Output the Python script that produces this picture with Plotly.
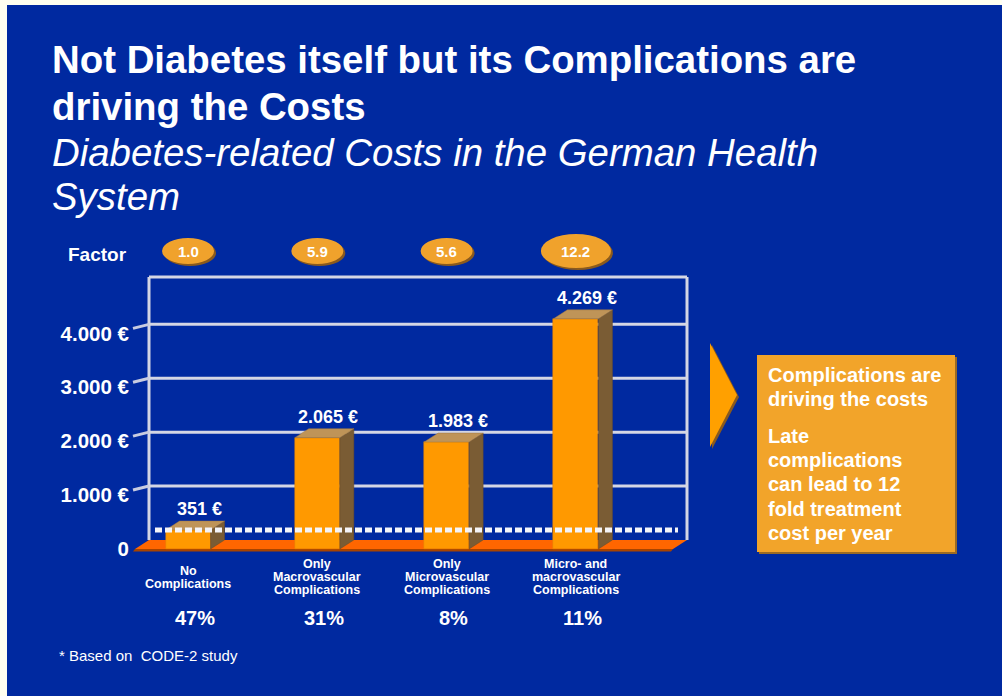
import plotly.graph_objects as go

# ---------------- data ----------------
categories = [
    ["No", "Complications"],
    ["Only", "Macrovascular", "Complications"],
    ["Only", "Microvascular", "Complications"],
    ["Micro- and", "macrovascular", "Complications"],
]
costs = [351, 2065, 1983, 4269]
cost_labels = ["351 €", "2.065 €", "1.983 €", "4.269 €"]
factors = ["1.0", "5.9", "5.6", "12.2"]
shares = ["47%", "31%", "8%", "11%"]
y_ticks = [0, 1000, 2000, 3000, 4000]
y_tick_labels = ["0", "1.000 €", "2.000 €", "3.000 €", "4.000 €"]

title_lines = ["Not Diabetes itself but its Complications are", "driving the Costs"]
subtitle_lines = ["Diabetes-related Costs in the German Health", "System"]
box_lines = ["Complications are", "driving the costs", "Late", "complications",
             "can lead to 12", "fold treatment", "cost per year"]
footnote = "* Based on\u00a0\u00a0CODE-2 study"

# ---------------- layout geometry ----------------
W, H = 1002, 696
L, R, T, B = 149, 687, 277, 552
X_RANGE = [-0.302, 3.859]
Y_RANGE = [-56, 5045]
FONT = "Liberation Sans, Arial, sans-serif"
BLUE = "#0029A0"
WHITE = "#FFFFFF"

ux = (X_RANGE[1] - X_RANGE[0]) / (R - L)   # data units per px (x)
uy = (Y_RANGE[1] - Y_RANGE[0]) / (B - T)   # data units per px (y)
DX = 14 * ux
DY = 9 * uy
BAR_W = 45 * ux


def px_x(x):
    return (x - L) / (R - L)


def px_y(y):
    return (B - y) / (B - T)


def poly(points):
    return "M " + " L ".join(f"{px_x(a):.5f},{px_y(b):.5f}" for a, b in points) + " Z"


idx = list(range(len(costs)))

fig = go.Figure()

# side faces
sx, sy = [], []
for i, v in zip(idx, costs):
    x1 = i + BAR_W / 2
    sx += [x1, x1 + DX, x1 + DX, x1, x1, None]
    sy += [0, DY, v + DY, v, 0, None]
fig.add_trace(go.Scatter(x=sx, y=sy, fill="toself", fillcolor="#7A5C34",
                         line=dict(width=0.5, color="#6A4C28"), mode="lines",
                         hoverinfo="skip", showlegend=False))
# top faces
tx, ty = [], []
for i, v in zip(idx, costs):
    x0 = i - BAR_W / 2
    x1 = i + BAR_W / 2
    tx += [x0, x0 + DX, x1 + DX, x1, x0, None]
    ty += [v, v + DY, v + DY, v, v, None]
fig.add_trace(go.Scatter(x=tx, y=ty, fill="toself", fillcolor="#BF9458",
                         line=dict(width=0.5, color="#A07840"), mode="lines",
                         hoverinfo="skip", showlegend=False))
# front faces
fig.add_trace(go.Bar(x=idx, y=costs, width=BAR_W,
                     marker=dict(color="#FF9900", line=dict(width=0.5, color="#E08000")),
                     hoverinfo="skip", showlegend=False))
# dashed baseline at the "no complications" level
fig.add_trace(go.Scatter(x=[X_RANGE[0] + 6 * ux, X_RANGE[1] - 9 * ux], y=[costs[0], costs[0]],
                         mode="lines", line=dict(color="#F4F4F8", width=5, dash="7px,3px"),
                         hoverinfo="skip", showlegend=False))

shapes = []
# background
shapes.append(dict(type="rect", xref="paper", yref="paper", layer="below",
                   x0=px_x(7), x1=px_x(W + 5), y0=px_y(H + 5), y1=px_y(5),
                   fillcolor=BLUE, line=dict(width=0)))
# floor
shapes.append(dict(type="path", xref="paper", yref="paper", layer="below",
                   path=poly([(L, 540), (R, 540), (R - 14, 549), (L - 14, 549)]),
                   fillcolor="#FF6600", line=dict(width=0)))
shapes.append(dict(type="path", xref="paper", yref="paper", layer="below",
                   path=poly([(L - 14, 549), (R - 14, 549), (R - 16, 551.5), (L - 16, 551.5)]),
                   fillcolor="#A84400", line=dict(width=0)))
# back wall frame
for x0, y0, x1, y1 in [(L, 540, L, T), (L, T, R, T), (R, T, R, 540)]:
    shapes.append(dict(type="line", xref="paper", yref="paper", layer="below",
                       x0=px_x(x0), y0=px_y(y0), x1=px_x(x1), y1=px_y(y1),
                       line=dict(color="#D4D6E4", width=3)))
# grid lines on back wall + connectors to labels
for t in y_ticks[1:]:
    shapes.append(dict(type="line", xref="paper", yref="y", layer="below",
                       x0=0, x1=1, y0=t + DY, y1=t + DY,
                       line=dict(color="#D4D6E4", width=3)))
    shapes.append(dict(type="line", xref="paper", yref="y", layer="below",
                       x0=px_x(133), x1=px_x(L), y0=t + 5 * uy, y1=t + DY,
                       line=dict(color="#C8CCE0", width=3)))
# factor ellipses
for i, f in zip(idx, factors):
    hw = (26 if len(f) <= 3 else 35) * ux
    hh = 13 if len(f) <= 3 else 17
    shapes.append(dict(type="circle", xref="x", yref="paper", layer="above",
                       x0=i - hw + 2 * ux, x1=i + hw + 2 * ux,
                       y0=px_y(251 + hh + 2), y1=px_y(251 - hh + 2),
                       fillcolor="#8A5A1E", line=dict(width=0)))
    shapes.append(dict(type="circle", xref="x", yref="paper", layer="above",
                       x0=i - hw, x1=i + hw, y0=px_y(251 + hh), y1=px_y(251 - hh),
                       fillcolor="#F0A22C", line=dict(width=0)))
# arrow
shapes.append(dict(type="path", xref="paper", yref="paper", layer="above",
                   path=poly([(712, 345), (739, 397), (712, 449)]),
                   fillcolor="#8A5A1E", line=dict(width=0)))
shapes.append(dict(type="path", xref="paper", yref="paper", layer="above",
                   path=poly([(710, 343), (737, 395), (710, 447)]),
                   fillcolor="#FFA000", line=dict(width=0)))
# box
shapes.append(dict(type="rect", xref="paper", yref="paper", layer="above",
                   x0=px_x(759), x1=px_x(957), y0=px_y(554), y1=px_y(357),
                   fillcolor="#9A6A24", line=dict(width=0)))
shapes.append(dict(type="rect", xref="paper", yref="paper", layer="above",
                   x0=px_x(757), x1=px_x(955), y0=px_y(552), y1=px_y(355),
                   fillcolor="#F2A42A", line=dict(width=0)))

ann = []


def text(x, y, s, size, xref="paper", yref="paper", xanchor="left", yanchor="middle",
         bold=True, italic=False, xshift=0, yshift=0):
    ann.append(dict(x=x, y=y, xref=xref, yref=yref, text=s, showarrow=False,
                    xanchor=xanchor, yanchor=yanchor, xshift=xshift, yshift=yshift,
                    font=dict(family=FONT, size=size, color=WHITE,
                              weight="bold" if bold else "normal",
                              style="italic" if italic else "normal")))


for k, s in enumerate(title_lines):
    text(px_x(50), px_y(59 + 47 * k), s, 38.4)
for k, s in enumerate(subtitle_lines):
    text(px_x(50), px_y(152 + 45 * k), s, 38.4, bold=False, italic=True)

text(px_x(66), px_y(255), "Factor", 19)
for i, f in zip(idx, factors):
    text(i, px_y(251), f, 15, xref="x", xanchor="center")

for i, v, s in zip(idx, costs, cost_labels):
    text(i + DX / 2, v + DY, s, 18, xref="x", yref="y", xanchor="center", yanchor="bottom",
         xshift=4, yshift=0)

for i, lines in zip(idx, categories):
    start = 577 - 6.5 * (len(lines) - 1)
    for k, s in enumerate(lines):
        text(i, px_y(start + 13 * k), s, 12.5, xref="x", xanchor="center")

for i, s in zip(idx, shares):
    text(i + DX / 2, px_y(618), s, 20, xref="x", xanchor="center")

for k, s in enumerate(box_lines):
    yy = 375 + 24.3 * k + (12 if k >= 2 else 0)
    text(px_x(766), px_y(yy), s, 20)

text(px_x(57), px_y(655), footnote, 15, bold=False)

fig.update_layout(
    width=W, height=H,
    margin=dict(l=L, r=W - R, t=T, b=H - B, pad=0),
    paper_bgcolor="#FFFFF0",
    plot_bgcolor="rgba(0,0,0,0)",
    bargap=0,
    showlegend=False,
    shapes=shapes,
    annotations=ann,
    xaxis=dict(range=X_RANGE, visible=False, fixedrange=True),
    yaxis=dict(range=Y_RANGE, tickvals=y_ticks, ticktext=y_tick_labels,
               showgrid=False, zeroline=False, showline=False, ticks="",
               ticklabelstandoff=19,
               tickfont=dict(family=FONT, size=20.5, color=WHITE, weight="bold"),
               fixedrange=True),
)

fig.write_html("out.html",
               config={"displayModeBar": False},
               post_script="document.body.style.margin='0';document.body.style.overflow='hidden';")
